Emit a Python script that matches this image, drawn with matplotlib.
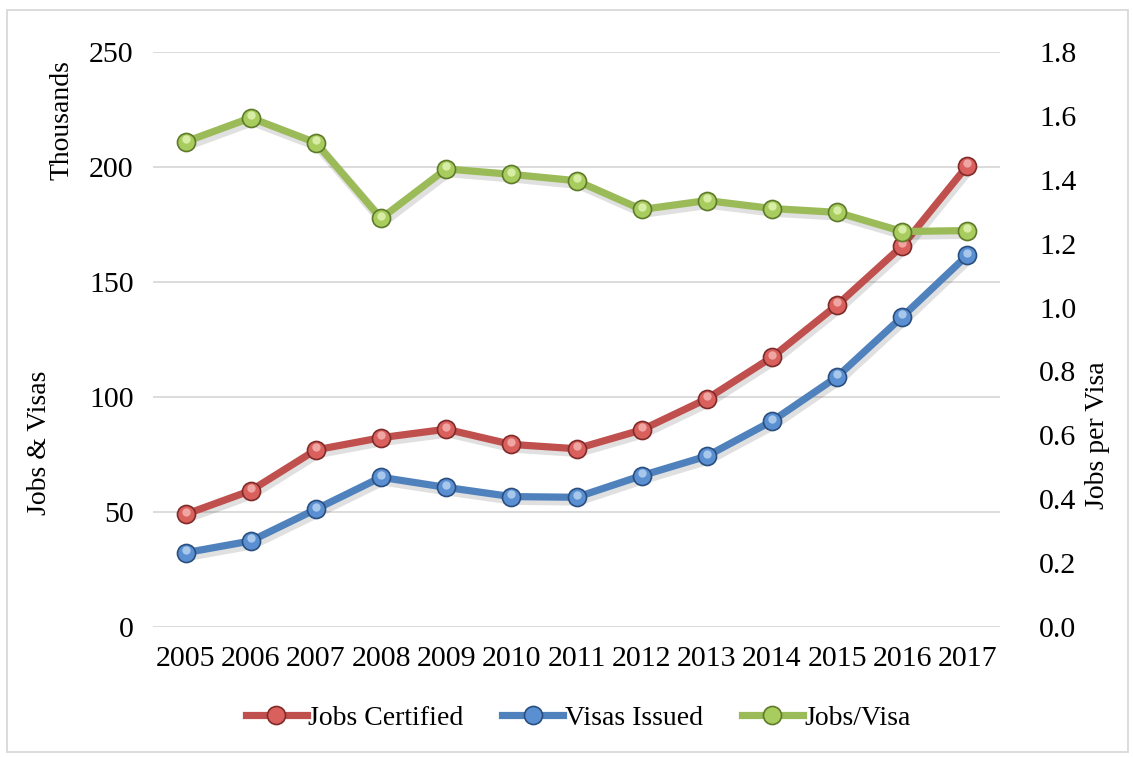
import matplotlib
matplotlib.use("Agg")
import matplotlib.pyplot as plt
import matplotlib.patheffects as pe
from matplotlib.transforms import offset_copy
from matplotlib.patches import Rectangle
from matplotlib.lines import Line2D
import numpy as np

plt.rcParams['font.family'] = ['Liberation Serif', 'DejaVu Serif']

years = ['2005', '2006', '2007', '2008', '2009', '2010', '2011',
         '2012', '2013', '2014', '2015', '2016', '2017']
jobs_certified = [49.0, 59.3, 77.0, 82.3, 86.0, 79.4, 77.5, 85.7, 99.2, 117.3, 140.0, 165.7, 200.6]
visas_issued = [32.3, 37.4, 51.2, 65.1, 60.7, 56.7, 56.4, 65.8, 74.3, 89.5, 108.8, 134.9, 161.7]
jobs_per_visa = [1.519, 1.594, 1.516, 1.279, 1.434, 1.417, 1.397, 1.307, 1.335, 1.310, 1.298, 1.238, 1.241]

left_ticks = [0, 50, 100, 150, 200, 250]
right_ticks = [0.0, 0.2, 0.4, 0.6, 0.8, 1.0, 1.2, 1.4, 1.6, 1.8]

# line colour, marker face, marker edge, highlight
red = ('#C0504D', '#D9605C', '#7F2B29', '#F5B7B5')
blue = ('#4F81BD', '#5A90D2', '#2A4E7F', '#BBD5F2')
green = ('#9BBB59', '#A8CC5E', '#5E7A2A', '#E4F5B8')

fig = plt.figure(figsize=(11.33, 7.57), dpi=100)
ax = fig.add_axes([153 / 1133, 1 - 627 / 757, (1000 - 153) / 1133, (627 - 52) / 757])
ax2 = ax.twinx()

x = np.arange(len(years))
shadow = [pe.SimpleLineShadow(offset=(1.5, -2.5), alpha=0.12, shadow_color='black', linewidth=7), pe.Normal()]


def draw(axis, vals, col):
    axis.plot(x, vals, color=col[0], lw=5.2, path_effects=shadow, zorder=3,
              solid_capstyle='round')
    axis.plot(x, vals, ls='none', marker='o', ms=13, mfc=col[1], mec=col[2],
              mew=1.2, zorder=4)
    hl = offset_copy(axis.transData, fig=fig, x=0, y=2.5, units='dots')
    axis.plot(x, vals, ls='none', marker='o', ms=6, mfc=col[3], mec='none',
              alpha=0.8, transform=hl, zorder=5)
    return Line2D([], [], color=col[0], lw=5.2, marker='o', ms=13,
                  mfc=col[1], mec=col[2], mew=1.2)


l1 = draw(ax, jobs_certified, red)
l2 = draw(ax, visas_issued, blue)
l3 = draw(ax2, jobs_per_visa, green)

ax.set_xlim(-0.5, len(years) - 0.5)
ax.set_ylim(0, 250)
ax2.set_ylim(0, 1.8)
ax.set_yticks(left_ticks)
ax2.set_yticks(right_ticks)
ax2.set_yticklabels([f'{t:.1f}' for t in right_ticks])
ax.set_xticks(x)
ax.set_xticklabels(years)

ax.grid(axis='y', color='#D9D9D9', lw=1.3)
ax.set_axisbelow(True)
for a in (ax, ax2):
    for s in a.spines.values():
        s.set_visible(False)
    a.tick_params(length=0, labelsize=21.5)
ax.tick_params(axis='y', pad=14)
ax.tick_params(axis='x', pad=14)
ax2.tick_params(axis='y', pad=28)

fig.text(40 / 1133, 1 - 443 / 757, 'Jobs & Visas', rotation=90, ha='center', va='center', fontsize=20)
fig.text(62 / 1133, 1 - 120 / 757, 'Thousands', rotation=90, ha='center', va='center', fontsize=20)
fig.text(1098 / 1133, 1 - 435 / 757, 'Jobs per Visa', rotation=90, ha='center', va='center', fontsize=20)

fig.legend([l1, l2, l3], ['Jobs Certified', 'Visas Issued', 'Jobs/Visa'],
           loc='center', bbox_to_anchor=(578 / 1133, 1 - 718 / 757), ncol=3,
           frameon=False, fontsize=20, handlelength=2.2, handletextpad=0.05,
           columnspacing=1.4)

fig.patches.append(Rectangle((7 / 1133, 1 - 752 / 757), 1121 / 1133, 742 / 757,
                             transform=fig.transFigure, fill=False,
                             edgecolor='#D9D9D9', lw=1.3))

fig.savefig('out.png', dpi=100)
